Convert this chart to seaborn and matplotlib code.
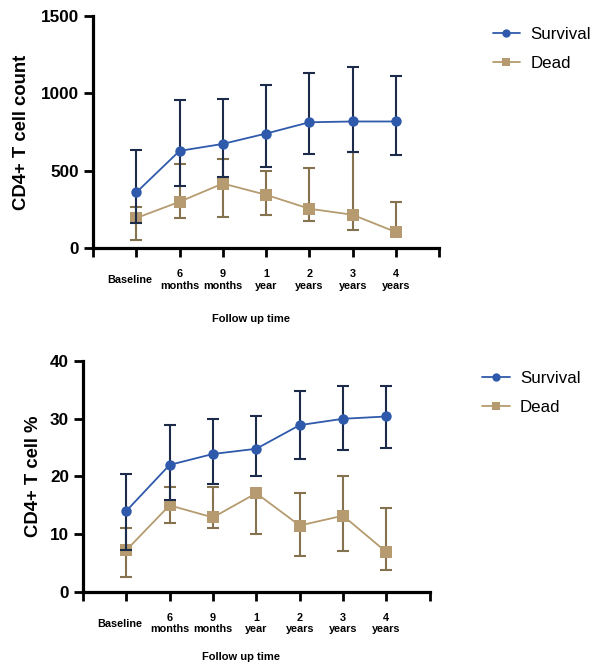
import numpy as np
import pandas as pd
import matplotlib
matplotlib.use('Agg')
import matplotlib.pyplot as plt
import seaborn as sns

time_labels = ['Baseline', '6\nmonths', '9\nmonths', '1\nyear', '2\nyears', '3\nyears', '4\nyears']
groups = ['Survival', 'Dead']

# CD4+ T cell count (mean, lower, upper)
count_surv = [359, 628, 673, 740, 813, 818, 818]
count_surv_lo = [164, 402, 458, 523, 607, 618, 603]
count_surv_hi = [635, 955, 966, 1057, 1130, 1171, 1113]
count_dead = [194, 299, 417, 344, 254, 215, 103]
count_dead_lo = [52, 194, 198, 213, 176, 116, 75]
count_dead_hi = [267, 544, 577, 495, 519, 618, 297]

# CD4+ T cell % (mean, lower, upper)
pct_surv = [14.0, 22.0, 23.9, 24.8, 28.9, 30.0, 30.4]
pct_surv_lo = [7.2, 16.0, 18.7, 20.0, 23.0, 24.6, 25.0]
pct_surv_hi = [20.5, 28.9, 29.9, 30.5, 34.8, 35.7, 35.7]
pct_dead = [7.2, 15.0, 12.9, 17.1, 11.5, 13.2, 6.9]
pct_dead_lo = [2.65, 11.9, 11.0, 10.1, 6.2, 7.0, 3.8]
pct_dead_hi = [11.0, 18.2, 18.2, 17.9, 17.2, 20.0, 14.5]

line_col = {'Survival': '#2f5aab', 'Dead': '#b59b6f'}
err_col = {'Survival': '#1d2b4b', 'Dead': '#857350'}
mark = {'Survival': 'o', 'Dead': 's'}

sns.set_style('ticks')
plt.rcParams['font.family'] = ['Liberation Sans', 'DejaVu Sans']
for k in ['text.color', 'axes.labelcolor', 'xtick.color', 'ytick.color', 'axes.edgecolor']:
    plt.rcParams[k] = 'black'

fig = plt.figure(figsize=(5.96, 6.65), dpi=100)
ax1 = fig.add_axes([0.156, 0.627, 0.581, 0.349])
ax2 = fig.add_axes([0.139, 0.110, 0.582, 0.347])


def draw_panel(ax, series, ymax, yticks, ylabel, ylab_x, xlab_off):
    x = np.arange(len(time_labels))
    z = 2
    for g in ['Dead', 'Survival']:
        mean, lo, hi = series[g]
        mean = np.array(mean); lo = np.array(lo); hi = np.array(hi)
        ax.errorbar(x, mean, yerr=[mean - lo, hi - mean], fmt='none',
                    ecolor=err_col[g], elinewidth=1.5, capsize=4.5, capthick=1.5,
                    zorder=z)
        df = pd.DataFrame({'x': x, 'y': mean})
        sns.lineplot(data=df, x='x', y='y', ax=ax, color=line_col[g], marker=mark[g],
                     markersize=7.5 if g == 'Survival' else 8, markeredgewidth=0,
                     linewidth=1.3, label=g, zorder=z + 1)
        z += 2

    ax.set_xlim(-1, 7)
    ax.set_ylim(0, ymax)
    ax.set_xticks(np.arange(-1, 8))
    ax.set_xticklabels([])
    ax.set_yticks(yticks)
    ax.set_yticklabels([str(t) for t in yticks], fontsize=12.3, fontweight='bold')
    ax.tick_params(axis='both', length=6.5, width=2, direction='out')
    for s in ['left', 'bottom']:
        ax.spines[s].set_linewidth(2.3)
    sns.despine(ax=ax)
    ax.set_xlabel('')
    ax.set_ylabel('')

    for i, lab in enumerate(time_labels):
        dx = -0.15 if i == 0 else 0
        ax.annotate(lab, xy=(i + dx, 0), xycoords=('data', 'axes fraction'),
                    xytext=(0, -23), textcoords='offset points', ha='center',
                    va='center', fontsize=7.8, fontweight='bold', linespacing=1.15)
    ax.annotate('Follow up time', xy=(2.65, 0), xycoords=('data', 'axes fraction'),
                xytext=(0, xlab_off), textcoords='offset points', ha='center',
                va='center', fontsize=8, fontweight='bold')

    pos = ax.get_position()
    fig.text(ylab_x, pos.y0 + pos.height / 2, ylabel, rotation=90, ha='center',
             va='center', fontsize=13.3, fontweight='bold')

    h, l = ax.get_legend_handles_labels()
    order = [l.index('Survival'), l.index('Dead')]
    return [h[i] for i in order], [l[i] for i in order]


leg_kw = dict(loc='upper left', bbox_transform=fig.transFigure, frameon=False,
              fontsize=12.2, handlelength=1.65, handletextpad=0.6,
              labelspacing=0.85, markerscale=0.8, borderaxespad=0)

h, l = draw_panel(ax1, {'Survival': (count_surv, count_surv_lo, count_surv_hi),
                        'Dead': (count_dead, count_dead_lo, count_dead_hi)},
                  1500, [0, 500, 1000, 1500], 'CD4+ T cell count', 22 / 596, -51)
ax1.legend(h, l, bbox_to_anchor=(0.815, 0.970), **leg_kw)

h, l = draw_panel(ax2, {'Survival': (pct_surv, pct_surv_lo, pct_surv_hi),
                        'Dead': (pct_dead, pct_dead_lo, pct_dead_hi)},
                  40, [0, 10, 20, 30, 40], 'CD4+ T cell %', 33 / 596, -47)
ax2.legend(h, l, bbox_to_anchor=(0.797, 0.453), **leg_kw)

fig.savefig('out.png', dpi=100)
